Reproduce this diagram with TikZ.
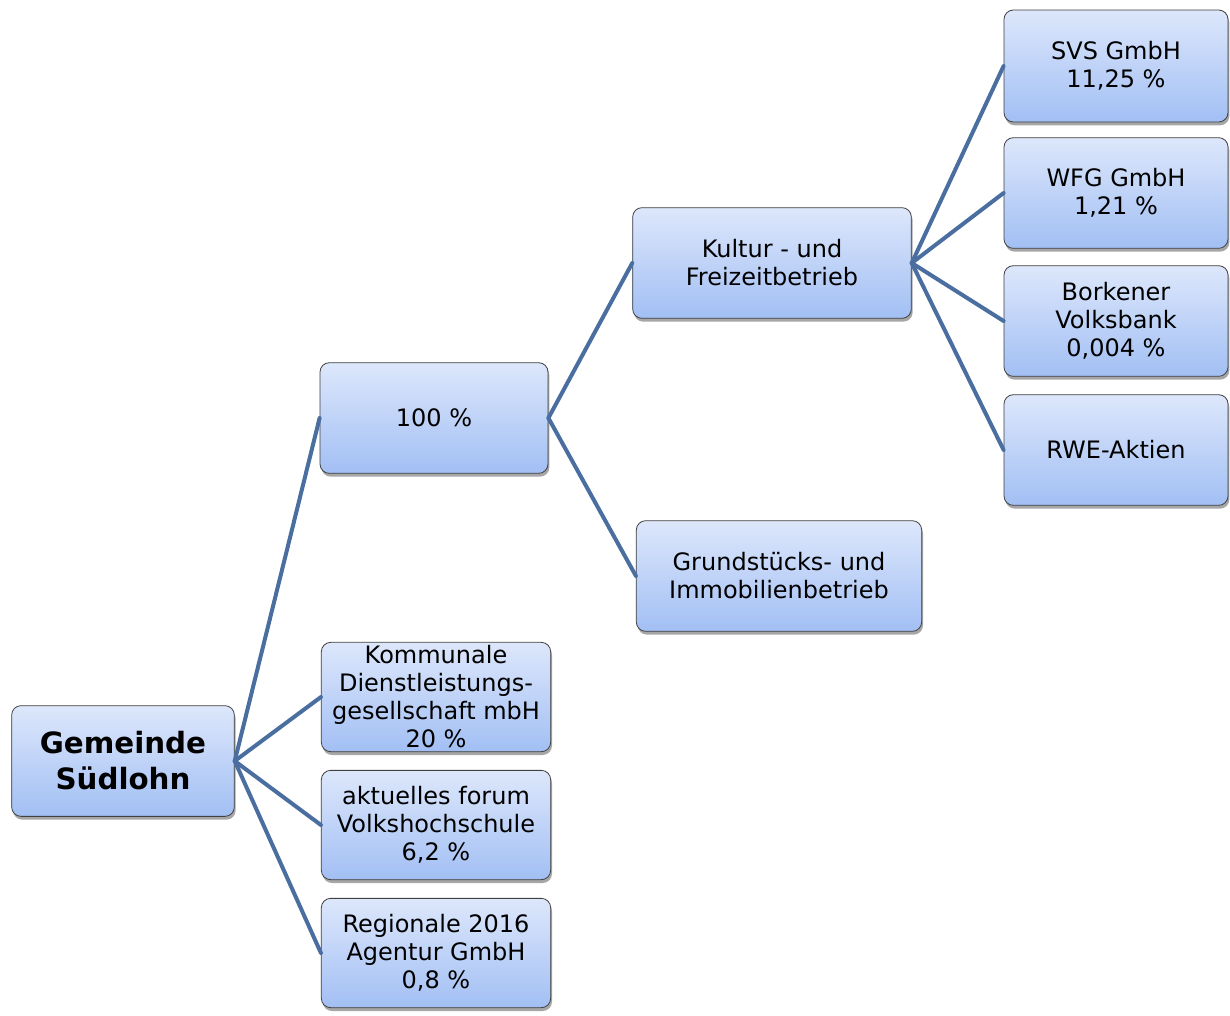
\documentclass[tikz,border=0pt]{standalone}
\usepackage{fontspec}
\setmainfont{DejaVu Sans}
\usepackage{tikz}
\usetikzlibrary{shadows}

\definecolor{boxtop}{HTML}{DDE7FB}
\definecolor{boxbottom}{HTML}{A2BFF4}
\definecolor{boxline}{HTML}{3F3F3F}
\definecolor{linkblue}{HTML}{4A6EA0}

\begin{document}
\begin{tikzpicture}[x=0.75pt, y=-0.75pt,
        node_style/.style={rectangle, rounded corners=7pt, draw=boxline, line width=0.6pt,
            top color=boxtop, bottom color=boxbottom, inner sep=0pt, align=center,
            font=\fontsize{18pt}{21pt}\selectfont,
            drop shadow={shadow xshift=1pt, shadow yshift=-2.5pt, opacity=0.35, fill=black}},
        root_style/.style={node_style, minimum width=167pt, minimum height=83pt,
            font=\fontsize{22pt}{27pt}\selectfont\bfseries},
        edge_style/.style={draw=linkblue, line width=3pt, line cap=round}]

        \useasboundingbox (0,0) rectangle (1230,1015);

        % root
        \node [root_style] (gemeinde) at (123,761) {Gemeinde\\Südlohn};

        % second level
        \node [node_style, minimum width=171pt, minimum height=83pt] (hundert) at (434,418) {100 \%};

        \node [node_style, minimum width=172pt, minimum height=82pt] (kdg) at (436,697) {Kommunale\\Dienstleistungs-\\gesellschaft mbH\\20 \%};

        \node [node_style, minimum width=172pt, minimum height=82pt] (forum) at (436,825) {aktuelles forum\\Volkshochschule\\6,2 \%};

        \node [node_style, minimum width=172pt, minimum height=82pt] (regionale) at (436,953) {Regionale 2016\\Agentur GmbH\\0,8 \%};

        % third level
        \node [node_style, minimum width=209pt, minimum height=83pt] (kultur) at (772,263) {Kultur - und\\Freizeitbetrieb};

        \node [node_style, minimum width=214pt, minimum height=83pt] (grund) at (779,576) {Grundstücks- und\\Immobilienbetrieb};

        % fourth level
        \node [node_style, minimum width=168pt, minimum height=84pt] (svs) at (1116,66) {SVS GmbH\\11,25 \%};

        \node [node_style, minimum width=168pt, minimum height=83pt] (wfg) at (1116,193) {WFG GmbH\\1,21 \%};

        \node [node_style, minimum width=168pt, minimum height=83pt] (borken) at (1116,321) {Borkener\\Volksbank\\0,004 \%};

        \node [node_style, minimum width=168pt, minimum height=83pt] (rwe) at (1116,450) {RWE-Aktien};

        % connectors
        \draw [edge_style] (gemeinde.east) -- (hundert.west);
        \draw [edge_style] (gemeinde.east) -- (kdg.west);
        \draw [edge_style] (gemeinde.east) -- (forum.west);
        \draw [edge_style] (gemeinde.east) -- (regionale.west);

        \draw [edge_style] (hundert.east) -- (kultur.west);
        \draw [edge_style] (hundert.east) -- (grund.west);

        \draw [edge_style] (kultur.east) -- (svs.west);
        \draw [edge_style] (kultur.east) -- (wfg.west);
        \draw [edge_style] (kultur.east) -- (borken.west);
        \draw [edge_style] (kultur.east) -- (rwe.west);

        \end{tikzpicture}
\end{document}
